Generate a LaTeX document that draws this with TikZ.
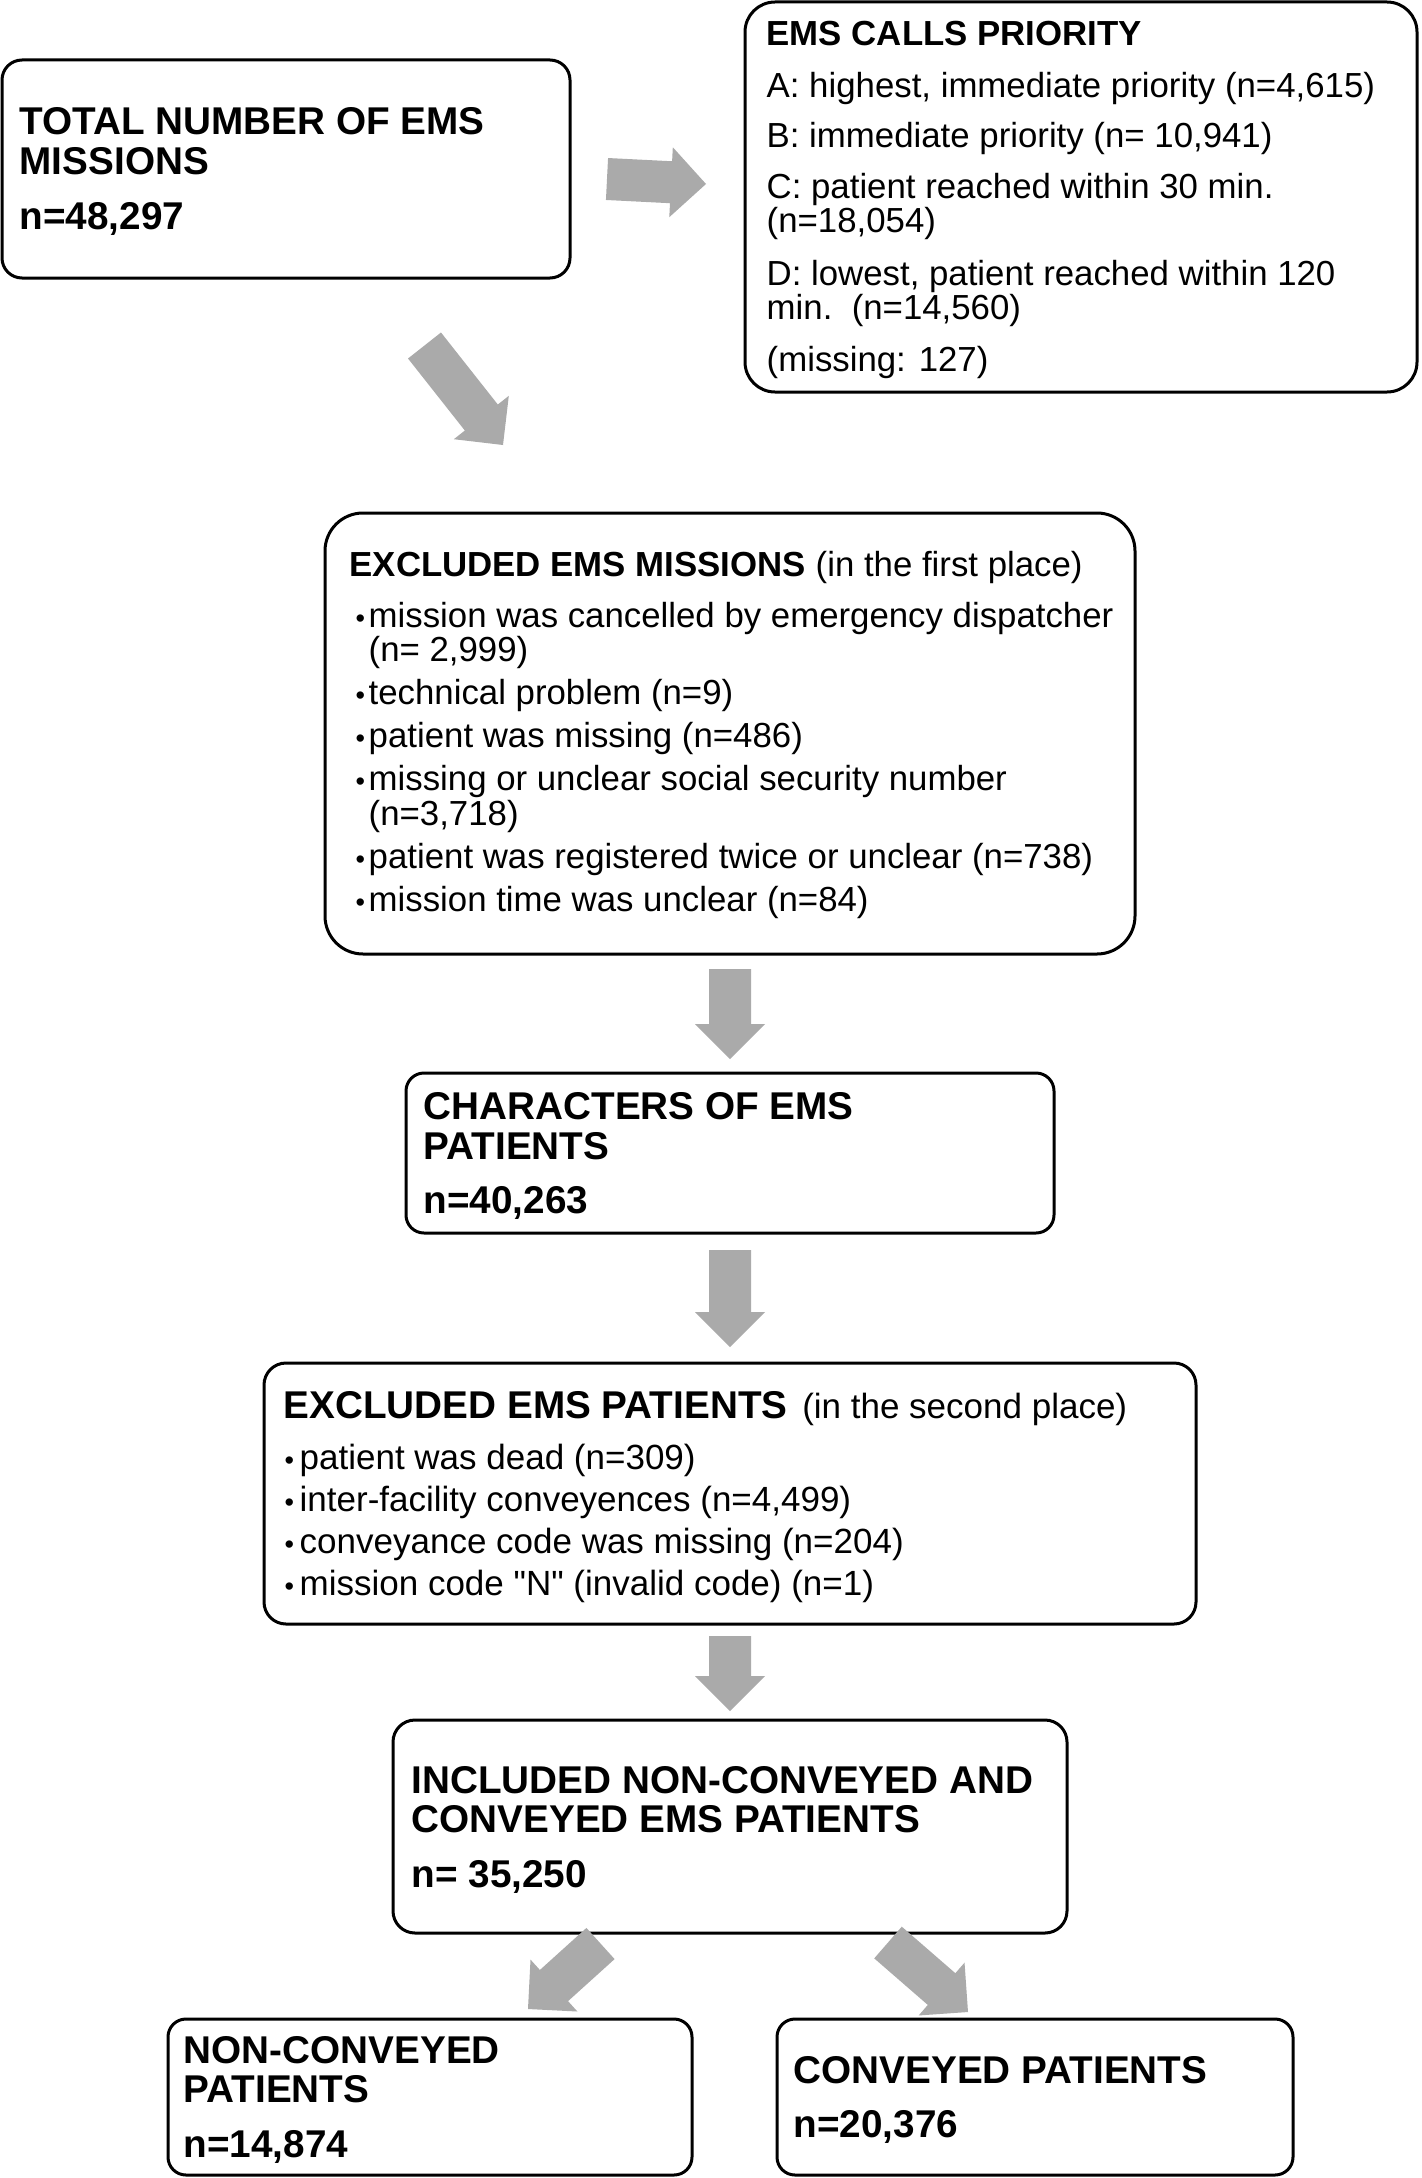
\documentclass[tikz,border=0pt]{standalone}
\usepackage{fontspec}
\setmainfont{Liberation Sans}[Ligatures=TeXOff]
\usetikzlibrary{calc}
\definecolor{arrowgray}{RGB}{170,170,170}
\newcommand\bigf{\fontsize{38.7}{39.5}\selectfont}
\newcommand\smallf{\fontsize{34.8}{34.5}\selectfont}
\newcommand\itm[2]{\hspace*{#1}\makebox[#2][l]{\fontsize{27}{27}\selectfont•}}
\newcommand\cont[2]{\hspace*{#1}\hspace*{#2}}
\newcommand\blockarrow[2]{%
  \path ($(#2)!35pt!(#1)$) coordinate (hb);
  \fill[arrowgray] ($(#1)!21pt!90:(#2)$) -- ($(hb)!21pt!-90:(#1)$) -- ($(hb)!35pt!-90:(#1)$) -- (#2)
    -- ($(hb)!35pt!90:(#1)$) -- ($(hb)!21pt!90:(#1)$) -- ($(#1)!21pt!-90:(#2)$) -- cycle;}
\tikzset{
  box/.style={draw=black, line width=3pt, fill=white, inner sep=0pt},
  txt/.style={anchor=west, align=left, inner sep=0pt},
}
\begin{document}
\begin{tikzpicture}[x=1pt,y=-1pt]
\useasboundingbox[fill=white] (0,0) rectangle (1421,2178);
% boxes
\node[box, minimum width=568pt, minimum height=218pt, rounded corners=20pt] (b1) at (286,169) {};
\node[box, minimum width=672pt, minimum height=390pt, rounded corners=30pt] (b2) at (1081,197) {};
\node[box, minimum width=810pt, minimum height=441pt, rounded corners=38pt] (b3) at (730,733.5) {};
\node[box, minimum width=648pt, minimum height=160pt, rounded corners=18pt] (b4) at (730,1153) {};
\node[box, minimum width=932pt, minimum height=261pt, rounded corners=22pt] (b5) at (730,1493.5) {};
\node[box, minimum width=674pt, minimum height=213pt, rounded corners=22pt] (b6) at (730,1826.5) {};
\node[box, minimum width=524pt, minimum height=156pt, rounded corners=18pt] (b7) at (430,2097) {};
\node[box, minimum width=516pt, minimum height=156pt, rounded corners=18pt] (b8) at (1035,2097) {};
% texts
\node[txt, font=\bigf\bfseries] (t1) at ($(b1.west)+(19,2.5)$)
  {TOTAL NUMBER OF EMS\\MISSIONS\\[16pt]n=48,297};
\node[txt, font=\smallf] (t2) at ($(b2.west)+(23,3)$)
  {\textbf{EMS CALLS PRIORITY}\\[17pt]
   A: highest, immediate priority (n=4,615)\\[16pt]
   B: immediate priority (n= 10,941)\\[16pt]
   C: patient reached within 30 min.\\
   (n=18,054)\\[18pt]
   D: lowest, patient reached within 120\\
   min.\ \ (n=14,560)\\[17pt]
   (missing: 127)};
\node[txt, font=\smallf] (t3) at ($(b3.west)+(26,1.5)$)
  {\textbf{EXCLUDED EMS MISSIONS} (in the first place)\\[16pt]
   \itm{6pt}{13pt}mission was cancelled by emergency dispatcher\\
   \cont{6pt}{13pt}(n= 2,999)\\[8.5pt]
   \itm{6pt}{13pt}technical problem (n=9)\\[8.5pt]
   \itm{6pt}{13pt}patient was missing (n=486)\\[8.5pt]
   \itm{6pt}{13pt}missing or unclear social security number\\
   \cont{6pt}{13pt}(n=3,718)\\[8.5pt]
   \itm{6pt}{13pt}patient was registered twice or unclear (n=738)\\[8.5pt]
   \itm{6pt}{13pt}mission time was unclear (n=84)};
\node[txt, font=\bigf\bfseries] (t4) at ($(b4.west)+(19,3)$)
  {CHARACTERS OF EMS\\PATIENTS\\[15pt]n=40,263};
\node[txt, font=\fontsize{35}{42}\selectfont] (t5) at ($(b5.west)+(21,4)$)
  {{\bigf\bfseries EXCLUDED EMS PATIENTS}\hspace{5pt} (in the second place)\\[9pt]
   \itm{1pt}{15pt}patient was dead (n=309)\\
   \itm{1pt}{15pt}inter-facility conveyences (n=4,499)\\
   \itm{1pt}{15pt}conveyance code was missing (n=204)\\
   \itm{1pt}{15pt}mission code "N" (invalid code) (n=1)};
\node[txt, font=\bigf\bfseries] (t6) at ($(b6.west)+(20,3)$)
  {INCLUDED NON-CONVEYED AND\\CONVEYED EMS PATIENTS\\[15pt]n= 35,250};
\node[txt, font=\bigf\bfseries] (t7) at ($(b7.west)+(17,2.5)$)
  {NON-CONVEYED\\PATIENTS\\[15pt]n=14,874};
\node[txt, font=\bigf\bfseries] (t8) at ($(b8.west)+(18,3)$)
  {CONVEYED PATIENTS\\[15pt]n=20,376};
% arrow end points
\coordinate (a1s) at (607,179);    \coordinate (a1e) at (706,184);
\coordinate (a2s) at (424.5,345.5);\coordinate (a2e) at (503,445);
\coordinate (a3s) at (730,969);    \coordinate (a3e) at (730,1059);
\coordinate (a4s) at (730,1250);   \coordinate (a4e) at (730,1347);
\coordinate (a5s) at (730,1636);   \coordinate (a5e) at (730,1711);
\coordinate (a6s) at (600.5,1943.5);\coordinate (a6e) at (528,2009);
\coordinate (a7s) at (888,1942.5); \coordinate (a7e) at (968,2012);
\blockarrow{a1s}{a1e}
\blockarrow{a2s}{a2e}
\blockarrow{a3s}{a3e}
\blockarrow{a4s}{a4e}
\blockarrow{a5s}{a5e}
\blockarrow{a6s}{a6e}
\blockarrow{a7s}{a7e}
\end{tikzpicture}
\end{document}
